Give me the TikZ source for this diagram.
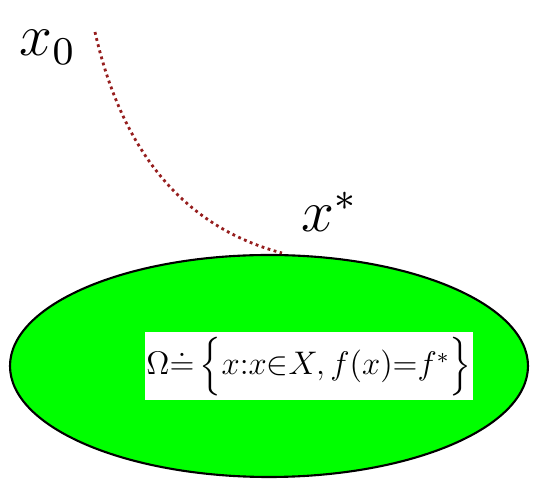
\documentclass[tikz,border=0pt]{standalone}
\usepackage{amsmath,amssymb}
\usepackage{graphicx}
\usepackage{xcolor}
\usepackage{tikz}
\usetikzlibrary{positioning,shapes.geometric}
\definecolor{setcol}{RGB}{0,255,0}
\definecolor{pathcol}{RGB}{150,30,30}
\newcommand{\enlarge}[2]{\scalebox{#1}{#2}}

\begin{document}
\begin{tikzpicture}[x=0.02cm,y=-0.02cm,
  lab/.style={inner sep=0pt,font=\fontsize{12}{14}\selectfont},
  setbox/.style={fill=white,inner sep=1pt,minimum width=322*0.02cm,minimum height=68*0.02cm,font=\fontsize{12}{14}\selectfont},
  traj/.style={pathcol,line width=1.6pt,dotted}]
\useasboundingbox (0,0) rectangle (539,486);

% feasible set
\node[ellipse,draw,line width=1.2pt,fill=setcol,minimum width=518*0.02cm,minimum height=222*0.02cm] (omega) at (269,366) {};
\node[setbox] (def) at (309,366) {\enlarge{1.55}{$\Omega{\doteq}\left\{\rule[-0.6em]{0pt}{1.8em}x{:}x{\in}X,f(x){=}f^{*}\right\}$}};

% start and end points
\coordinate (start) at (95,32);
\coordinate (opt) at (282,253);
\node[lab] (x0) at (48,47) {\enlarge{2.8}{$x_{0}$}};
\node[lab] (xstar) at (330,212) {\enlarge{2.8}{$x^{*}$}};

% trajectory
\draw[traj] (start) .. controls (125,165) and (195,230) .. (opt);
\end{tikzpicture}
\end{document}
